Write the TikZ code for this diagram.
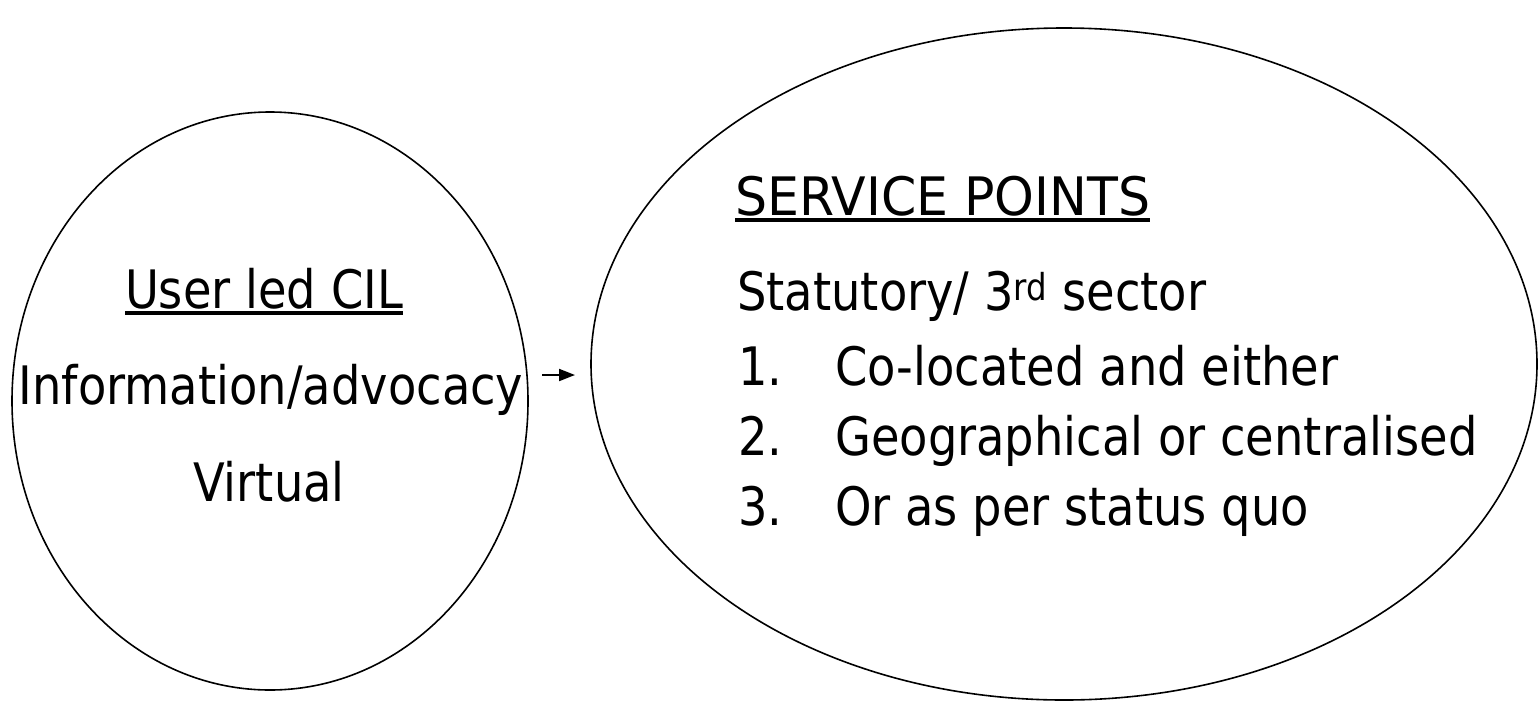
\documentclass[tikz,border=0pt]{standalone}
\usepackage{fontspec}
\usepackage{graphicx}
\setmainfont{DejaVu Sans}[FakeStretch=0.875]
\usetikzlibrary{shapes.geometric, arrows.meta, positioning}
\newcommand\ulword[1]{\setbox0\hbox{#1}\rlap{\rule[-7pt]{\wd0}{3.6pt}}\box0}

\begin{document}
\begin{tikzpicture}[x=1pt, y=-1pt,
    blob/.style={ellipse, draw=black, line width=1.6pt, inner sep=0pt},
    txt/.style={inner sep=0pt, font=\fontsize{53}{64}\selectfont},
    num/.style={txt, anchor=base west}
]
    \useasboundingbox (0,0) rectangle (1538,726);
    \node[blob, minimum width=516, minimum height=578] (cil) at (270,401) {};
    \node[blob, minimum width=946, minimum height=672] (svc) at (1064,364) {};

    % left circle
    \node[txt, anchor=base] (cilhead) at (264,308) {\ulword{User led CIL}};
    \node[txt, anchor=base] (cilinfo) at (271,404) {Information/advocacy};
    \node[txt, anchor=base] (cilvirt) at (269,501) {Virtual};

    % right circle
    \node[num] (svchead) at (735,215) {\ulword{\scalebox{1.09}[1]{SERVICE POINTS}}};
    \node[num] (svcsect) at (737,310) {Statutory/ 3\textsuperscript{rd} sector};
    \node[num] (svcone) at (738,385) {\makebox[97pt][l]{1.}Co-located and either};
    \node[num] (svctwo) at (738,455) {\makebox[97pt][l]{2.}Geographical or centralised};
    \node[num] (svcthree) at (738,525) {\makebox[97pt][l]{3.}Or as per status quo};

    \coordinate (ctail) at (542,375);
    \coordinate (chead) at (575,375);
    \draw[-{Triangle[length=16pt, width=12pt]}, line width=2pt] (ctail) -- (chead);
\end{tikzpicture}
\end{document}
